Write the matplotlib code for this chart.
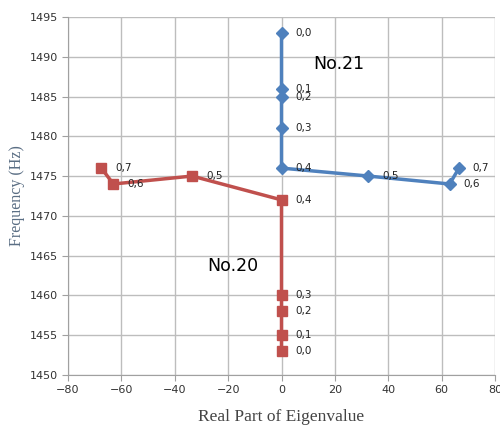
import matplotlib
matplotlib.use('Agg')
import matplotlib.pyplot as plt
import numpy as np

# data
labels = ['0,0', '0,1', '0,2', '0,3', '0,4', '0,5', '0,6', '0,7']
no21_re = [0, 0, 0, 0, 0, 32.5, 63, 66.5]
no21_freq = [1493, 1486, 1485, 1481, 1476, 1475, 1474, 1476]
no20_re = [0, 0, 0, 0, 0, -33.5, -63, -67.5]
no20_freq = [1453, 1455, 1458, 1460, 1472, 1475, 1474, 1476]

blue = '#4f81bd'
red = '#c0504d'
grid_c = '#bdbdbd'

fig = plt.figure(figsize=(5, 4.25), dpi=100)
ax = fig.add_axes([0.136, 0.118, 0.854, 0.842])

ax.plot(no21_re, no21_freq, color=blue, lw=2.5, marker='D', ms=6, zorder=3)
ax.plot(no20_re, no20_freq, color=red, lw=2.5, marker='s', ms=7.5, zorder=3)

for x, y, t in zip(no21_re, no21_freq, labels):
    ax.annotate(t, (x, y), xytext=(10, 0), textcoords='offset points',
                va='center', fontsize=7.5, color='#222222')
for x, y, t in zip(no20_re, no20_freq, labels):
    ax.annotate(t, (x, y), xytext=(10, 0), textcoords='offset points',
                va='center', fontsize=7.5, color='#222222')

ax.text(12, 1488.5, 'No.21', fontsize=12.5, color='black')
ax.text(-28, 1463, 'No.20', fontsize=12.5, color='black')

ax.set_xlim(-80, 80)
ax.set_ylim(1450, 1495)
ax.set_xticks(np.arange(-80, 81, 20))
ax.set_yticks(np.arange(1450, 1496, 5))
ax.set_xticklabels(['\u221280', '\u221260', '\u221240', '\u221220', '0', '20', '40', '60', '80'])
ax.grid(True, color=grid_c, lw=1)
ax.set_axisbelow(True)
for s in ['top', 'right']:
    ax.spines[s].set_visible(False)
for s in ['left', 'bottom']:
    ax.spines[s].set_color('#a0a0a0')
ax.tick_params(colors='#a0a0a0', labelcolor='#333333', labelsize=8, length=4)

ax.set_xlabel('Real Part of Eigenvalue', family='Liberation Serif', fontsize=12.5,
              color='#444444', labelpad=10)
ax.set_ylabel('Frequency (Hz)', family='Liberation Serif', fontsize=11.5,
              color='#5a6e84', labelpad=3)

fig.savefig('out.png', dpi=100)
